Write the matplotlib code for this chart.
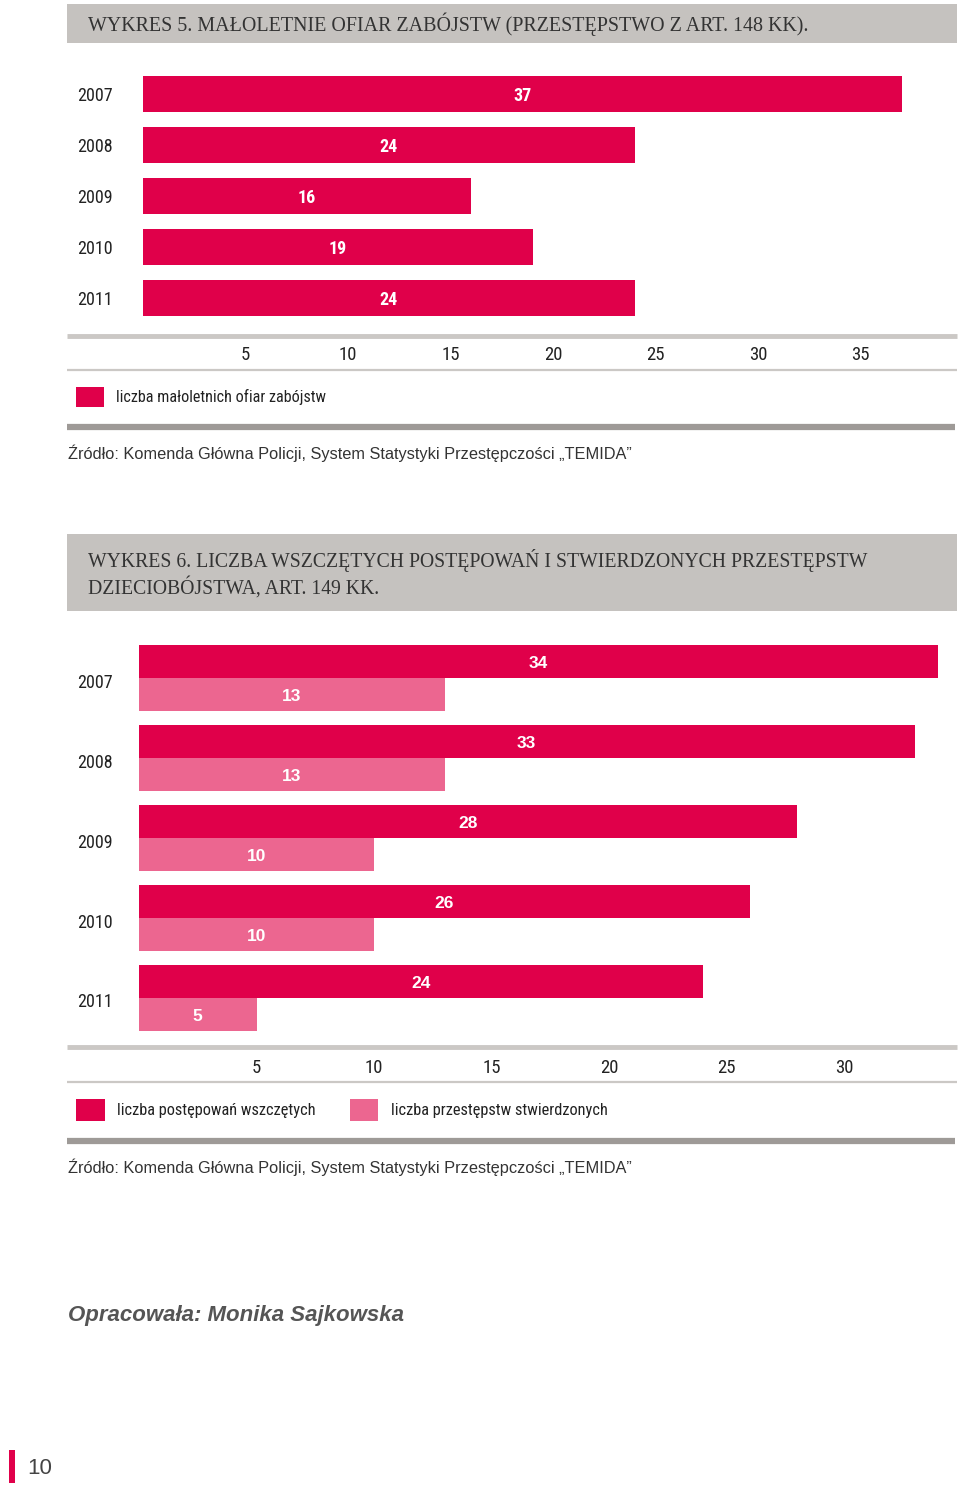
import matplotlib
matplotlib.use("Agg")
import matplotlib.pyplot as plt
from matplotlib import font_manager
from matplotlib.lines import Line2D
from matplotlib.patches import Rectangle
import numpy as np

# --- data ---
years = ["2007", "2008", "2009", "2010", "2011"]
victims = [37, 24, 16, 19, 24]                 # wykres 5
proceedings = [34, 33, 28, 26, 24]             # wykres 6, wszczęte
offences = [13, 13, 10, 10, 5]                 # wykres 6, stwierdzone
ticks1 = [5, 10, 15, 20, 25, 30, 35]
ticks2 = [5, 10, 15, 20, 25, 30]

title1 = "WYKRES 5. MAŁOLETNIE OFIAR ZABÓJSTW (PRZESTĘPSTWO Z ART. 148 KK)."
title2 = ("WYKRES 6. LICZBA WSZCZĘTYCH POSTĘPOWAŃ I STWIERDZONYCH PRZESTĘPSTW\n"
          "DZIECIOBÓJSTWA, ART. 149 KK.")
legend1 = ["liczba małoletnich ofiar zabójstw"]
legend2 = ["liczba postępowań wszczętych", "liczba przestępstw stwierdzonych"]
source = "Źródło: Komenda Główna Policji, System Statystyki Przestępczości „TEMIDA”"
author = "Opracowała: Monika Sajkowska"

RED = "#e0004a"
PINK = "#ec6690"
BOX = "#c5c2bf"
LIGHT = "#cbc8c5"
DARK = "#9e9a97"
TXT = "#222222"

available = {f.name for f in font_manager.fontManager.ttflist}
def pick(*names):
    for n in names:
        if n in available:
            return n
    return "DejaVu Sans"

NARROW = pick("Liberation Sans Narrow", "Roboto Condensed", "DejaVu Sans Condensed", "Liberation Sans")
SANS = pick("Liberation Sans", "Arial", "DejaVu Sans")
SERIF = pick("Liberation Serif", "DejaVu Serif")

W, H = 960, 1492
fig = plt.figure(figsize=(W / 100, H / 100), dpi=100)


def fx(x):
    return x / W


def fy(y):
    return 1 - y / H


def hline(y, x0, x1, lw, color):
    fig.add_artist(Line2D([fx(x0), fx(x1)], [fy(y), fy(y)], lw=lw, color=color,
                          transform=fig.transFigure, solid_capstyle="butt"))


def box(x0, y0, x1, y1, color):
    fig.add_artist(Rectangle((fx(x0), fy(y1)), fx(x1) - fx(x0), fy(y0) - fy(y1),
                             transform=fig.transFigure, color=color, lw=0))


def make_ax(x0, y_top, y_bot, scale, right=958):
    ax = fig.add_axes([fx(x0), fy(y_bot), fx(right) - fx(x0), fy(y_top) - fy(y_bot)])
    ax.set_xlim(0, (right - x0) / scale)
    for s in ax.spines.values():
        s.set_visible(False)
    ax.set_facecolor("none")
    return ax


# ---------------- WYKRES 5 ----------------
box(67, 4, 957, 43, BOX)
fig.text(fx(88), fy(24), title1, family=SERIF, fontsize=14.4, color="#333333",
         va="center", ha="left")

ax1 = make_ax(143, 68.5, 323.5, 20.5)
y1 = np.arange(len(years))
b1 = ax1.barh(y1, victims, height=36 / 51, color=RED, label=legend1[0])
for yy, v in zip(y1, victims):
    ax1.text(v / 2, yy, str(v), color="white", fontweight="bold", family=NARROW,
             fontsize=13, ha="center", va="center_baseline")
ax1.set_ylim(len(years) - 0.5, -0.5)
ax1.set_yticks(y1, years, family=NARROW, fontsize=13, color=TXT)
ax1.set_xticks(ticks1, [str(t) for t in ticks1], family=NARROW, fontsize=13.5, color=TXT)
ax1.tick_params(axis="y", length=0, pad=22)
ax1.tick_params(axis="x", length=0, pad=16)

hline(336, 67, 957, 3.5, LIGHT)
hline(369.5, 67, 957, 1.6, LIGHT)
fig.legend(handles=[b1], labels=legend1, loc="center left",
           bbox_to_anchor=(fx(76), fy(397)), frameon=False, borderpad=0,
           borderaxespad=0, handlelength=1.74, handleheight=1.6, handletextpad=0.75,
           prop={"family": NARROW, "size": 11.6}, labelcolor=TXT)
hline(427, 67, 955, 4.5, DARK)
fig.text(fx(68), fy(453), source, family=SANS, fontsize=11.8, color="#333333",
         va="center", ha="left")

# ---------------- WYKRES 6 ----------------
box(67, 534, 957, 611, BOX)
fig.text(fx(88), fy(574), title2, family=SERIF, fontsize=14.2, color="#333333",
         va="center", ha="left", linespacing=1.3)

ax2 = make_ax(139, 638.5, 1038, 23.5)
y2 = np.arange(len(years))
bh = 33 / 80
b2a = ax2.barh(y2 - bh / 2, proceedings, height=bh, color=RED, label=legend2[0])
b2b = ax2.barh(y2 + bh / 2, offences, height=bh, color=PINK, label=legend2[1])
for yy, v in zip(y2, proceedings):
    ax2.text(v / 2, yy - bh / 2, str(v), color="white", fontweight="bold", family=SANS,
             fontsize=12.5, ha="center", va="center_baseline")
for yy, v in zip(y2, offences):
    ax2.text(v / 2, yy + bh / 2, str(v), color="white", fontweight="bold", family=SANS,
             fontsize=12.5, ha="center", va="center_baseline")
ax2.set_ylim(len(years) - 0.5, -0.5)
ax2.set_yticks(y2 + 0.03, years, family=NARROW, fontsize=13, color=TXT)
ax2.set_xticks(ticks2, [str(t) for t in ticks2], family=NARROW, fontsize=13.5, color=TXT)
ax2.tick_params(axis="y", length=0, pad=19)
ax2.tick_params(axis="x", length=0, pad=15)

hline(1047, 67, 957, 3.5, LIGHT)
hline(1081.5, 67, 957, 1.6, LIGHT)
fig.legend(handles=[b2a, b2b], labels=legend2, loc="center left",
           bbox_to_anchor=(fx(76), fy(1110)), frameon=False, borderpad=0, ncol=2,
           borderaxespad=0, handlelength=1.74, handleheight=1.6, handletextpad=0.75,
           columnspacing=2.1, prop={"family": NARROW, "size": 11.8}, labelcolor=TXT)
hline(1141, 67, 955, 4.5, DARK)
fig.text(fx(68), fy(1167), source, family=SANS, fontsize=11.8, color="#333333",
         va="center", ha="left")

# ---------------- footer ----------------
fig.text(fx(68), fy(1315), author, family=SANS, fontsize=16, fontweight="bold",
         fontstyle="italic", color="#555555", va="center", ha="left")
box(9, 1450, 15, 1483, RED)
fig.text(fx(27), fy(1468), "10", family=SANS, fontsize=16, color="#444444",
         va="center", ha="left")

fig.savefig("out.png", dpi=100)
